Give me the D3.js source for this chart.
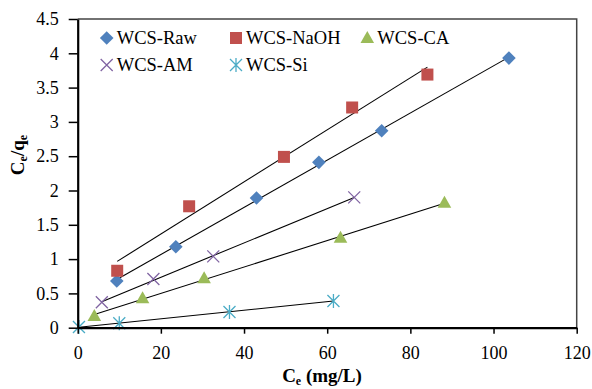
<!DOCTYPE html>
<html>
<head>
<meta charset="utf-8">
<script src="https://cdn.jsdelivr.net/npm/d3@7"></script>
<style>
  body { margin: 0; background: #fff; }
</style>
</head>
<body>
<div id="chart"></div>
<script>
// data
const rawCe = [9.4, 23.6, 43.0, 58.0, 73.1, 103.7];
const rawQ = [0.68, 1.18, 1.89, 2.41, 2.87, 3.93];
const naohCe = [9.5, 26.8, 49.6, 66.0, 84.1];
const naohQ = [0.83, 1.77, 2.49, 3.21, 3.69];
const caCe = [4.0, 15.6, 30.4, 63.2, 88.2];
const caQ = [0.17, 0.43, 0.72, 1.31, 1.82];
const amCe = [5.8, 18.2, 32.6, 66.5];
const amQ = [0.37, 0.71, 1.04, 1.90];
const siCe = [0.3, 10.0, 36.5, 61.5];
const siQ = [0.01, 0.065, 0.23, 0.39];

const seriesNames = ["WCS-Raw", "WCS-NaOH", "WCS-CA", "WCS-AM", "WCS-Si"];
const xTicks = [0, 20, 40, 60, 80, 100, 120];
const yTicks = [0, 0.5, 1, 1.5, 2, 2.5, 3, 3.5, 4, 4.5];
const yTickLabels = ["0", "0.5", "1", "1.5", "2", "2.5", "3", "3.5", "4", "4.5"];

const series = [
    { name: seriesNames[0], x: rawCe, y: rawQ, color: "#4F81BD", shape: "diamond" },
    { name: seriesNames[1], x: naohCe, y: naohQ, color: "#C0504D", shape: "square" },
    { name: seriesNames[2], x: caCe, y: caQ, color: "#9BBB59", shape: "triangle" },
    { name: seriesNames[3], x: amCe, y: amQ, color: "#8064A2", shape: "x" },
    { name: seriesNames[4], x: siCe, y: siQ, color: "#4BACC6", shape: "star" }
];

const width = 592, height = 389;
const margin = { top: 19, left: 77.7, right: 15.3, bottom: 61.3 };
const FONT = '"Times New Roman"';

// set the serif face on a text element both ways
function serif(sel) {
    return sel.attr("font-family", "Times New Roman").style("font-family", FONT);
}

const svg = d3.select("#chart").append("svg")
    .attr("width", width)
    .attr("height", height);

const xScale = d3.scaleLinear().domain([0, 120]).range([margin.left, width - margin.right]);
const yScale = d3.scaleLinear().domain([0, 4.5]).range([height - margin.bottom, margin.top]);

// plot frame (top + right)
svg.append("path")
    .attr("d", `M${xScale(0)},${yScale(4.5)}H${xScale(120)}V${yScale(0)}`)
    .attr("fill", "none")
    .attr("stroke", "#444")
    .attr("stroke-width", 1.5);

// linear fits (least squares, from min to max Ce)
function fit(xs, ys) {
    const mx = d3.mean(xs), my = d3.mean(ys);
    const slope = d3.sum(xs, (v, i) => (v - mx) * (ys[i] - my)) / d3.sum(xs, v => (v - mx) * (v - mx));
    return { slope: slope, icpt: my - slope * mx };
}

series.forEach(function (s) {
    const f = fit(s.x, s.y);
    const x0 = d3.min(s.x), x1 = d3.max(s.x);
    svg.append("line")
        .attr("x1", xScale(x0)).attr("y1", yScale(f.icpt + f.slope * x0))
        .attr("x2", xScale(x1)).attr("y2", yScale(f.icpt + f.slope * x1))
        .attr("stroke", "#000")
        .attr("stroke-width", 1.1);
});

// markers
function marker(g, shape, color) {
    if (shape === "diamond") {
        g.append("path").attr("d", "M0,-6.8L6.8,0L0,6.8L-6.8,0Z").attr("fill", color);
    } else if (shape === "square") {
        g.append("rect").attr("x", -6).attr("y", -6).attr("width", 12).attr("height", 12).attr("fill", color);
    } else if (shape === "triangle") {
        g.append("path").attr("d", "M0,-7L6.8,5L-6.8,5Z").attr("fill", color);
    } else if (shape === "x") {
        g.append("path").attr("d", "M-6,-6L6,6M6,-6L-6,6")
            .attr("stroke", color).attr("stroke-width", 1.3).attr("fill", "none");
    } else {
        g.append("path").attr("d", "M-6,-6L6,6M6,-6L-6,6M0,-7V7")
            .attr("stroke", color).attr("stroke-width", 1.3).attr("fill", "none");
    }
}

series.forEach(function (s) {
    svg.selectAll(null)
        .data(s.x.map((v, i) => [v, s.y[i]]))
        .enter()
        .append("g")
        .attr("transform", d => `translate(${xScale(d[0])},${yScale(d[1])})`)
        .each(function () { marker(d3.select(this), s.shape, s.color); });
});

// axes
const xAxis = svg.append("g")
    .attr("transform", `translate(0,${yScale(0)})`)
    .call(d3.axisBottom(xScale).tickValues(xTicks).tickSize(6).tickSizeOuter(0).tickPadding(13));

const yAxis = svg.append("g")
    .attr("transform", `translate(${xScale(0)},0)`)
    .call(d3.axisLeft(yScale).tickValues(yTicks).tickFormat((d, i) => yTickLabels[i])
        .tickSize(9).tickSizeOuter(0).tickPadding(10));

[xAxis, yAxis].forEach(function (a) {
    serif(a).attr("font-size", 18);
    a.select(".domain").attr("stroke", "#000").attr("stroke-width", 2.2);
    a.selectAll(".tick line").attr("stroke", "#000").attr("stroke-width", 1.5);
    serif(a.selectAll(".tick text"))
        .attr("font-size", 18)
        .attr("fill", "#000");
});

// axis labels
const xLabel = serif(svg.append("text"))
    .attr("x", 322)
    .attr("y", 382)
    .attr("text-anchor", "middle")
    .attr("font-size", 19)
    .attr("font-weight", "bold");
xLabel.append("tspan").text("C");
xLabel.append("tspan").attr("dy", 3).attr("font-size", 12).text("e");
xLabel.append("tspan").attr("dy", -3).text(" (mg/L)");

const yLabel = serif(svg.append("text"))
    .attr("transform", "translate(24,155) rotate(-90)")
    .attr("text-anchor", "middle")
    .attr("font-size", 19)
    .attr("font-weight", "bold");
yLabel.append("tspan").text("C");
yLabel.append("tspan").attr("dy", 3).attr("font-size", 12).text("e");
yLabel.append("tspan").attr("dy", -3).text("/q");
yLabel.append("tspan").attr("dy", 3).attr("font-size", 12).text("e");

// legend
const legendPos = [[106.7, 38], [236, 38], [367.3, 38], [106.7, 65], [236, 65]];
series.forEach(function (s, i) {
    const g = svg.append("g").attr("transform", `translate(${legendPos[i][0]},${legendPos[i][1]})`);
    marker(g, s.shape, s.color);
    serif(g.append("text"))
        .attr("x", 10)
        .attr("y", 6)
        .attr("font-size", 18.5)
        .text(s.name);
});
</script>
</body>
</html>
